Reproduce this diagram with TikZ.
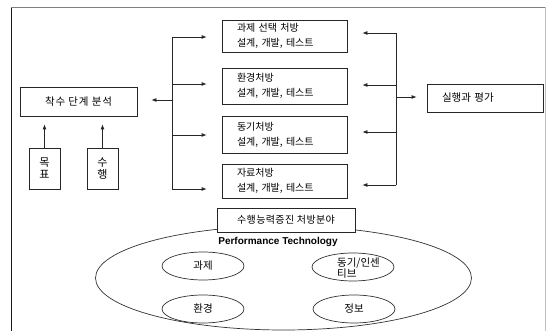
\documentclass[tikz,border=0pt]{standalone}
\usepackage{fontspec}
\setmainfont{Noto Sans CJK KR}
\newfontfamily\latinb{Liberation Sans}
\usetikzlibrary{arrows.meta,shapes.geometric}
\begin{document}
\begin{tikzpicture}[x=1pt,y=-1pt,
  ln/.style={draw=black!85, line width=0.8pt},
  arr/.style={ln, -{Latex[length=5pt,width=4pt]}},
  box/.style={draw=black!85, line width=0.8pt, fill=white, inner sep=0pt},
  rbox/.style={box, text width=95pt, inner xsep=15pt, minimum width=125pt, align=left, font=\fontsize{10}{15}\selectfont},
  ell/.style={ellipse, draw=black!80, line width=0.7pt, inner sep=0pt},
  sell/.style={ell, minimum width=82pt, minimum height=28pt, font=\fontsize{10.5}{11}\selectfont},
]
\useasboundingbox (0,0) rectangle (547,331);
\fill[white] (0,0) rectangle (547,331);
% frame
\draw[black!90, line width=0.8pt] (11,331) -- (11,7);
\draw[black!50, line width=0.8pt] (11,7) -- (545,7);
\draw[black!25, line width=0.6pt] (545,7) -- (545,331);

% left boxes
\node[box, minimum width=117pt, minimum height=29pt, font=\fontsize{10.5}{12}\selectfont\addfontfeature{LetterSpace=8}] (a) at (78.5,101.5) {착수 단계 분석};
\node[box, minimum width=31pt, minimum height=41pt, align=center, font=\fontsize{11}{12}\selectfont] (g) at (44.5,168.5) {목\\표};
\node[box, minimum width=31pt, minimum height=41pt, align=center, font=\fontsize{11}{12}\selectfont] (s) at (102.5,168.5) {수\\행};

% middle boxes
\node[rbox, minimum height=32pt] (b1) at (284.5,36) {과제 선택 처방\\설계, 개발, 테스트};
\node[rbox, minimum height=36pt] (b2) at (284.5,86) {환경처방\\설계, 개발, 테스트};
\node[rbox, minimum height=37pt] (b3) at (284.5,134.5) {동기처방\\설계, 개발, 테스트};
\node[rbox, minimum height=34pt] (b4) at (284.5,181) {자료처방\\설계, 개발, 테스트};

% right box
\node[box, minimum width=116pt, minimum height=28pt, text width=86pt, inner xsep=15pt, align=left, font=\fontsize{10.5}{12}\selectfont] (e) at (485,98) {실행과 평가};

% arrows from small boxes
\draw[arr, shorten >=8pt] (g.north) -- (a.south -| g.north);
\draw[arr, shorten >=8pt] (s.north) -- (a.south -| s.north);

% left bus
\coordinate (L0) at (172,100);
\coordinate (L1) at (172,37);
\coordinate (L2) at (172,84);
\coordinate (L3) at (172,135);
\coordinate (L4) at (172,189);
\draw[ln] (L1) -- (L4);
\foreach \i in {1,2,3,4} {\draw[arr, shorten >=15pt] (L\i) -- (L\i -| b\i.west);}
\draw[arr, shorten >=14pt] (L0) -- (L0 -| a.east);

% right bus
\coordinate (R0) at (396,97);
\coordinate (R1) at (396,33);
\coordinate (R2) at (396,85);
\coordinate (R3) at (396,132);
\coordinate (R4) at (396,185);
\draw[ln] (R1) -- (R4);
\foreach \i in {1,2,3,4} {\draw[arr, shorten >=15pt] (R\i) -- (R\i -| b\i.east);}
\draw[arr, shorten >=10pt] (R0) -- (R0 -| e.west);

% bottom part
\node[ell, minimum width=376pt, minimum height=104pt] (big) at (283.5,278) {};
\node[box, minimum width=138pt, minimum height=24pt, font=\fontsize{10}{12}\selectfont\addfontfeature{LetterSpace=4}] (p) at (286,220) {수행능력증진 처방분야};
\node[font=\latinb\bfseries\fontsize{10}{12}\selectfont] (ptt) at (278,242) {Performance Technology};
\node[sell] (k1) at (203,266) {과제};
\node[sell] (k2) at (203,309) {환경};
\node[sell, label={[align=left, font=\fontsize{10.5}{11}\selectfont, xshift=5.5pt, yshift=-1.5pt]center:{동기/인센\\티브}}] (k3) at (353,267) {};
\node[sell] (k4) at (354,309) {정보};
\end{tikzpicture}
\end{document}
